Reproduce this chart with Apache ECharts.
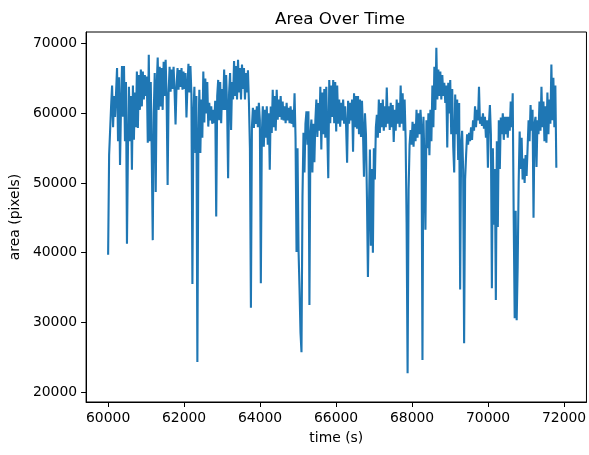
<!DOCTYPE html>
<html>
<head>
    <meta charset="utf-8">
    <title>Area Over Time</title>
    <script src="https://cdn.jsdelivr.net/npm/echarts@6/dist/echarts.min.js"></script>
    <style>
        html, body { margin: 0; padding: 0; background: #fff; }
        #main { width: 589px; height: 455px; }
    </style>
</head>
<body>
    <div id="main"></div>
    <script>
        // sampling of the recording (seconds)
        var startTime = 60000;
        var timeStep = 26.1;

        // area (pixels), one reading per sample
        var areaValues = [
            39700, 54000, 57500, 61000, 64000, 58000, 62500, 59500, 62900, 66500,
            56000, 65200, 52600, 61000, 66800, 59500, 66800, 56000, 64500, 41300,
            55000, 63800, 56000, 62500, 51900, 64000, 56200, 63000, 58000, 66000,
            57900, 65500, 60500, 66300, 61000, 66000, 62000, 65500, 62500, 65300,
            55800, 68400, 56000, 64500, 54000, 41800, 60000, 65800, 48700, 64000,
            68000, 60500, 66700, 61000, 66500, 60500, 67400, 62500, 67700, 62200,
            49700, 63000, 66700, 63100, 66300, 63500, 66700, 63200, 58400, 64000,
            66500, 63400, 66200, 63800, 66500, 63400, 66000, 63500, 65800, 59400,
            64000, 67100, 63000, 66800, 62700, 35500, 60000, 63800, 54300, 62500,
            24300, 56000, 63400, 54300, 62000, 56500, 66000, 58700, 65000, 60000,
            64500, 58100, 61500, 59000, 61000, 58500, 60500, 58600, 61800, 45200,
            62500, 64800, 59000, 64500, 58600, 63500, 60500, 66300, 60500, 65500,
            61000, 50700, 63000, 65800, 57600, 64500, 62000, 67500, 62500, 66800,
            62000, 67700, 63000, 66500, 62000, 67000, 63500, 66500, 62000, 65800,
            63000, 66200, 61500, 55000, 32100, 58000, 60800, 57900, 60500, 58500,
            61000, 58000, 61500, 59000, 35600, 57000, 61000, 55200, 60500, 56500,
            61000, 55500, 60000, 51900, 61000, 57200, 63400, 58000, 62500, 57500,
            63400, 59100, 62000, 59500, 62500, 59100, 61700, 59000, 61000, 58600,
            61500, 59000, 60800, 58600, 61000, 58500, 60500, 58000, 62900, 56500,
            40100, 55000, 40500, 34900, 28500, 25700, 48000, 57200, 51500, 58500,
            60300, 55500, 60300, 32500, 57000, 59100, 51500, 58500, 53000, 59000,
            62000, 56600, 61500, 57500, 63800, 54800, 63000, 57000, 63500, 56500,
            63800, 57500, 50700, 64800, 58600, 64000, 59500, 64800, 58600, 64500,
            57400, 64000, 58500, 62000, 58100, 61500, 59000, 62000, 58500, 61000,
            58100, 52900, 61800, 58500, 61500, 59000, 62000, 54500, 62900, 58000,
            62500, 57800, 62500, 57000, 62000, 56600, 61800, 57500, 50900, 60000,
            57000, 48000, 36500, 46000, 54800, 41000, 52000, 40000, 55000, 50500,
            58000, 59800, 56500, 62000, 57200, 61500, 58000, 62000, 57500, 61000,
            58000, 63700, 58500, 61000, 57600, 61500, 58000, 61200, 55900, 60500,
            57500, 62000, 58500, 61500, 58000, 64000, 58500, 62900, 57500, 62000,
            56500, 44300, 22700, 49000, 55500, 57600, 55500, 58800, 55200, 58500,
            56000, 60500, 56500, 60000, 57000, 60500, 58000, 24600, 59500, 53000,
            43300, 59000, 55000, 60000, 54000, 60500, 56000, 64000, 58000, 66700,
            60500, 69400, 62000, 66300, 62500, 66000, 62000, 65500, 62500, 64400,
            61500, 64000, 55100, 64400, 60000, 64800, 57000, 63500, 55200, 51500,
            62700, 57000, 62000, 53300, 61500, 34700, 55500, 57500, 52000, 27000,
            50500, 54000, 57000, 55500, 57200, 56000, 58000, 56200, 59000, 57500,
            61000, 58000, 60500, 59000, 63800, 58500, 59500, 58200, 60000, 57800,
            59500, 56500, 59000, 52200, 58500, 61200, 57000, 34900, 55000, 44000,
            52000, 33200, 56000, 43700, 59000, 52000, 59400, 57000, 60000, 56200,
            59500, 57000, 59500, 56500, 59500, 57500, 61700, 58000, 62900, 45000,
            30600, 46000, 30300, 38000, 50000, 57400, 52000, 56500, 50500, 53500,
            50000, 54000, 51000, 55000, 59000, 56000, 61200, 57500, 60500, 45000,
            58500, 59500, 52300, 59000, 57000, 61700, 57500, 63800, 58000, 61700,
            56000, 61000, 55800, 63000, 57000, 62000, 58500, 67000, 59000, 65100,
            58000, 64000, 52200
        ];

        var xTicks = [60000, 62000, 64000, 66000, 68000, 70000, 72000];
        var yTicks = [20000, 30000, 40000, 50000, 60000, 70000];

        var seriesData = areaValues.map(function (v, i) {
            return [startTime + i * timeStep, v];
        });

        var chart = echarts.init(document.getElementById('main'));
        var font = 'DejaVu Sans';

        chart.setOption({
            animation: false,
            backgroundColor: '#fff',
            title: {
                text: 'Area Over Time',
                left: 335,
                top: 6,
                textAlign: 'center',
                textStyle: { fontFamily: font, fontSize: 16.7, fontWeight: 'normal', color: '#000' }
            },
            grid: {
                left: 83, right: 1, top: 32, bottom: 53,
                show: true, borderColor: '#000', borderWidth: 1
            },
            xAxis: {
                type: 'value',
                min: 59420,
                max: 72590,
                name: 'time (s)',
                nameLocation: 'middle',
                nameGap: 29,
                nameTextStyle: { fontFamily: font, fontSize: 13.9, color: '#000' },
                axisLine: { onZero: false, lineStyle: { color: '#000' } },
                axisTick: { show: true, length: 5, lineStyle: { color: '#000' }, customValues: xTicks },
                axisLabel: {
                    fontFamily: font, fontSize: 13.9, color: '#000', margin: 9,
                    customValues: xTicks,
                    formatter: function (v) { return String(v); }
                },
                splitLine: { show: false }
            },
            yAxis: {
                type: 'value',
                min: 18563,
                max: 71680,
                name: 'area (pixels)',
                nameLocation: 'middle',
                nameGap: 56,
                nameRotate: 90,
                nameTextStyle: { fontFamily: font, fontSize: 13.9, color: '#000' },
                axisLine: { show: true, onZero: false, lineStyle: { color: '#000' } },
                axisTick: { show: true, length: 5, lineStyle: { color: '#000' }, customValues: yTicks },
                axisLabel: {
                    fontFamily: font, fontSize: 13.9, color: '#000', margin: 9,
                    customValues: yTicks,
                    formatter: function (v) { return String(v); }
                },
                splitLine: { show: false }
            },
            series: [{
                type: 'line',
                data: seriesData,
                showSymbol: false,
                lineStyle: { color: '#1f77b4', width: 2.1 },
                clip: true
            }]
        });
    </script>
</body>
</html>
